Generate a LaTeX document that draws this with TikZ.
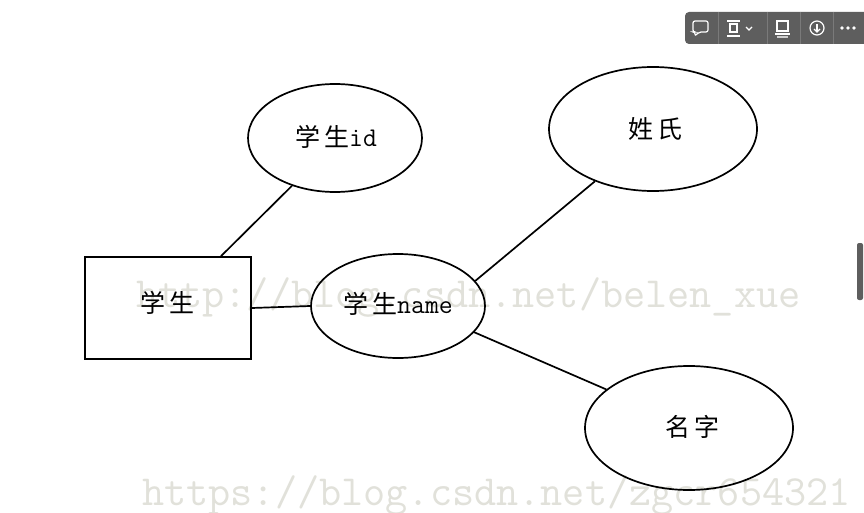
\documentclass[tikz,border=0pt]{standalone}
\usepackage{fontspec}
\newfontfamily\cjk[LetterSpace=16]{Noto Sans CJK SC}
\usetikzlibrary{shapes.geometric}
\definecolor{wm}{HTML}{E1E1DA}
\definecolor{tb}{HTML}{5E5E5E}
\definecolor{tbsep}{HTML}{7A7A7A}
\tikzset{
  ent/.style={draw, line width=1.7pt, minimum width=166pt, minimum height=102pt, inner sep=0pt},
  attr/.style={draw, ellipse, line width=1.7pt, inner sep=0pt},
  lbl/.style={font=\cjk\fontsize{25}{25}\selectfont},
  conn/.style={line width=1.7pt},
  wmtext/.style={text=wm, font=\ttfamily\fontsize{43}{43}\selectfont, anchor=base west, inner sep=0pt},
  icon/.style={draw=white, line width=1.2pt}
}
\begin{document}
\begin{tikzpicture}[x=1pt,y=-1pt]
\useasboundingbox (0,0) rectangle (864,513);
\fill[white] (0,0) rectangle (864,513);
% watermarks
\node[wmtext] (wm1) at (136,307) {http://blog.csdn.net/belen\_xue};
\node[wmtext] (wm2) at (142,505) {https://blog.csdn.net/zgcr654321};
% nodes
\node[ent] (stu) at (168,308) {};
\node[lbl] (stut) at (167,303) {学生};
\node[attr, minimum width=174pt, minimum height=108pt] (sid) at (335,138) {};
\node[lbl] (sidt) at (336,137) {学生{\ttfamily\fontsize{27}{27}\selectfont id}};
\node[attr, minimum width=208pt, minimum height=124pt] (xs) at (653,129) {};
\node[lbl] (xst) at (655,129) {姓氏};
\node[attr, minimum width=174pt, minimum height=104pt] (sname) at (398,306) {};
\node[lbl] (snamet) at (398,304) {学生{\ttfamily\fontsize{27}{27}\selectfont name}};
\node[attr, minimum width=208pt, minimum height=124pt] (mz) at (689,428) {};
\node[lbl] (mzt) at (692,427) {名字};
% connectors
\draw[conn] (stu.north) ++(53,0) coordinate (a1) -- (sid.228);
\draw[conn] (stu.east) -- (sname.west);
\draw[conn] (sname.18) -- (xs.222);
\draw[conn] (sname.341) -- (mz.155);
% toolbar
\fill[tb, rounded corners=4pt] (685,12) rectangle (868,44);
\foreach \xx in {718,767,800,833} \draw[tbsep, line width=1pt] (\xx,12) -- (\xx,44);
% speech bubble
\draw[icon, rounded corners=2pt] (693,21) -- (708,21) -- (708,32) -- (699,32) -- (695,36) -- (695,32) -- (693,32) -- cycle;
% box with bars + chevron
\draw[icon] (727,21) -- (740,21);
\draw[icon] (727,36) -- (740,36);
\draw[icon] (730,24) rectangle (737,32);
\draw[icon] (746,27) -- (749,30) -- (752,27);
% layout icon
\draw[icon] (777,21) rectangle (788,31);
\draw[icon] (775,34) -- (790,34);
\draw[icon, draw=white!70!tb] (777,37) -- (788,37);
% circled down arrow
\draw[icon] (817,28) circle (7);
\draw[icon] (817,24) -- (817,32);
\draw[icon] (814,29) -- (817,32) -- (820,29);
% dots
\foreach \xx in {842,848,854} \fill[white] (\xx,28) circle (1.8);
% scrollbar
\fill[tb, rounded corners=2pt] (857,243) rectangle (863,300);
\end{tikzpicture}
\end{document}
